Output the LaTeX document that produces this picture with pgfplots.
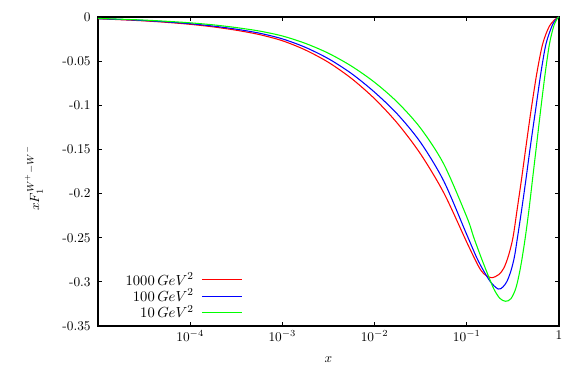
\documentclass[border=0pt]{standalone}
\usepackage{pgfplots}
\pgfplotsset{compat=1.18}

% values
\pgfplotstableread{
x y
1e-5 -0.0020
1.778e-5 -0.0031
3.162e-5 -0.0044
5.623e-5 -0.0061
1e-4 -0.0083
1.778e-4 -0.0112
3.162e-4 -0.0150
5.623e-4 -0.0199
1e-3 -0.0269
1.778e-3 -0.0374
3.162e-3 -0.0514
5.623e-3 -0.0697
1e-2 -0.0926
1.778e-2 -0.1207
3.162e-2 -0.1554
5.623e-2 -0.1991
0.1 -0.2552
0.1334 -0.2820
0.1540 -0.2911
0.1855 -0.2953
0.2227 -0.2917
0.2524 -0.2843
0.2825 -0.2707
0.3162 -0.2503
0.3522 -0.2175
0.3932 -0.1829
0.4378 -0.1472
0.4962 -0.1065
0.5766 -0.0629
0.6649 -0.0306
0.7786 -0.0113
0.9047 -0.0028
1 0
}\qthousand

\pgfplotstableread{
x y
1e-5 -0.0019
1.778e-5 -0.0028
3.162e-5 -0.0040
5.623e-5 -0.0056
1e-4 -0.0076
1.778e-4 -0.0103
3.162e-4 -0.0138
5.623e-4 -0.0183
1e-3 -0.0248
1.778e-3 -0.0344
3.162e-3 -0.0473
5.623e-3 -0.0641
1e-2 -0.0852
1.778e-2 -0.1103
3.162e-2 -0.1423
5.623e-2 -0.1858
0.1 -0.2466
0.1334 -0.2764
0.1778 -0.2990
0.2189 -0.3081
0.2462 -0.3058
0.2721 -0.2996
0.3008 -0.2877
0.3283 -0.2718
0.3540 -0.2503
0.3932 -0.2186
0.4378 -0.1841
0.4900 -0.1461
0.5581 -0.1048
0.6372 -0.0629
0.7223 -0.0306
0.8392 -0.0102
0.9277 -0.0028
1 0
}\qhundred

\pgfplotstableread{
x y
1e-5 -0.0016
1.778e-5 -0.0025
3.162e-5 -0.0035
5.623e-5 -0.0049
1e-4 -0.0066
1.778e-4 -0.0089
3.162e-4 -0.0120
5.623e-4 -0.0159
1e-3 -0.0215
1.778e-3 -0.0299
3.162e-3 -0.0411
5.623e-3 -0.0557
1e-2 -0.0740
1.778e-2 -0.0968
3.162e-2 -0.1261
5.623e-2 -0.1665
0.1 -0.2265
0.1191 -0.2498
0.1445 -0.2736
0.1691 -0.2917
0.1966 -0.3081
0.2284 -0.3187
0.2634 -0.3220
0.3008 -0.3191
0.3409 -0.3070
0.3815 -0.2843
0.4270 -0.2526
0.4720 -0.2186
0.5152 -0.1846
0.5694 -0.1461
0.6324 -0.1053
0.7045 -0.0657
0.7845 -0.0317
0.8713 -0.0113
0.9512 -0.0023
1 0
}\qten

\begin{document}
\begin{tikzpicture}[x=0.75pt,y=0.75pt]
\path[use as bounding box] (0,0) rectangle (581,374);
\begin{axis}[
    at={(73.5pt,36pt)}, anchor=south west,
    scale only axis, width=345.75pt, height=231.75pt,
    xmode=log, xmin=1e-5, xmax=1, ymin=-0.35, ymax=0,
    xtick={1e-4,1e-3,1e-2,1e-1,1},
    xticklabels={$10^{-4}$,$10^{-3}$,$10^{-2}$,$10^{-1}$,$1$},
    xminorticks=false,
    ytick={-0.35,-0.3,-0.25,-0.2,-0.15,-0.1,-0.05,0},
    yticklabels={-0.35,-0.3,-0.25,-0.2,-0.15,-0.1,-0.05,0},
    tick align=inside, major tick length=3pt,
    tick style={black, line width=0.9pt},
    axis line style={line width=1.3pt},
    yticklabel style={xshift=-2pt},
    xlabel={$x$}, ylabel={$xF_1^{W^+-W^-}$},
    xlabel style={at={(axis description cs:0.5,-0.11)}, anchor=center},
    ylabel style={at={(axis description cs:-0.139,0.479)}, anchor=center},
    legend plot pos=right,
    legend cell align=right,
    legend image code/.code={\draw[#1] (0pt,0pt) -- (30pt,0pt);},
    legend style={draw=none, fill=none, at={(rel axis cs:0.3145,0.012)}, anchor=south east,
        inner sep=0pt, row sep=-2.5pt, column sep=4pt, font=\fontsize{11}{12}\selectfont},
]
\addplot[red, line width=0.8pt, smooth, tension=0.5] table {\qthousand};
\addlegendentry{$1000\,GeV^2$}
\addplot[blue, line width=0.8pt, smooth, tension=0.5] table {\qhundred};
\addlegendentry{$100\,GeV^2$}
\addplot[green, line width=0.8pt, smooth, tension=0.5] table {\qten};
\addlegendentry{$10\,GeV^2$}
\end{axis}
\end{tikzpicture}
\end{document}
